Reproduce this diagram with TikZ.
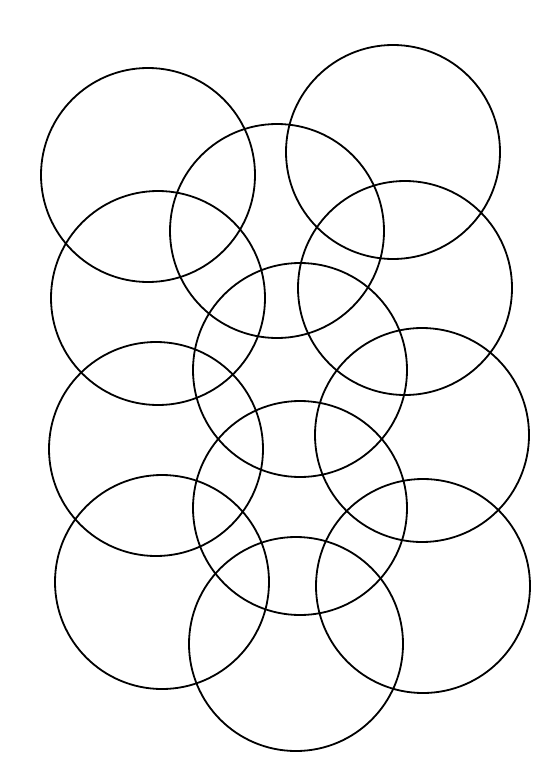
\documentclass[tikz,border=0pt]{standalone}
\begin{document}
\begin{tikzpicture}[x=1pt,y=-1pt,ring/.style={draw=black,line width=1.8pt}]
\useasboundingbox[fill=white] (0,0) rectangle (539,765);
\draw[ring] (148,175) circle[radius=107];
\draw[ring] (277,231) circle[radius=107];
\draw[ring] (393,152) circle[radius=107];
\draw[ring] (158,298) circle[radius=107];
\draw[ring] (405,288) circle[radius=107];
\draw[ring] (300,370) circle[radius=107];
\draw[ring] (156,449) circle[radius=107];
\draw[ring] (422,435) circle[radius=107];
\draw[ring] (300,508) circle[radius=107];
\draw[ring] (162,582) circle[radius=107];
\draw[ring] (423,586) circle[radius=107];
\draw[ring] (296,644) circle[radius=107];
\end{tikzpicture}
\end{document}
